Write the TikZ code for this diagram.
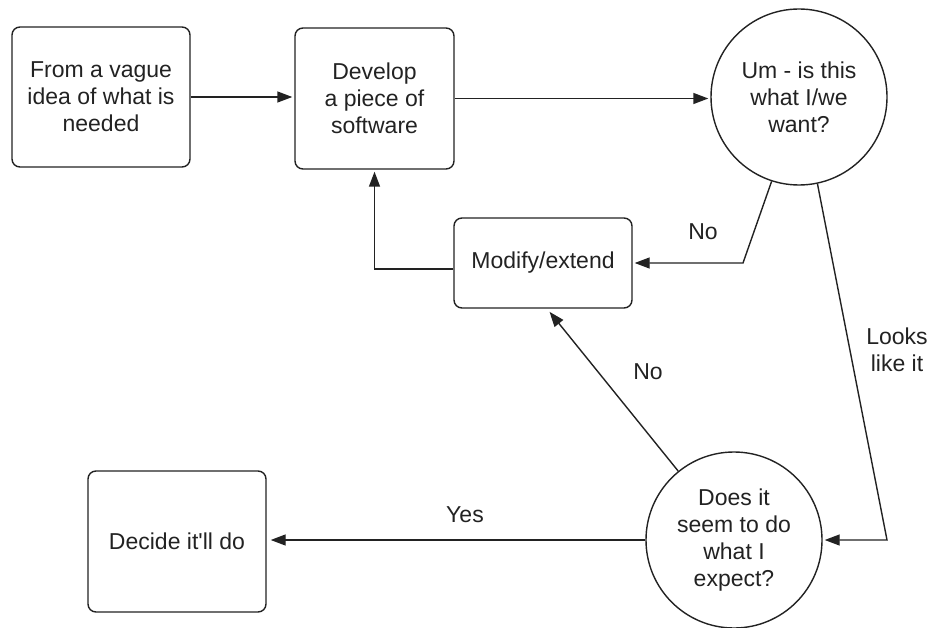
\documentclass[tikz,border=0pt]{standalone}
\usepackage{fontspec}
\setmainfont{Liberation Sans}
\usetikzlibrary{arrows.meta}
\definecolor{ink}{HTML}{222222}
\begin{document}
\begin{tikzpicture}[x=1pt,y=-1pt,
  every node/.style={font=\fontsize{23}{27}\selectfont, text=ink},
  box/.style={draw=ink, line width=1.4pt, rounded corners=8pt, align=center, inner sep=2pt},
  ask/.style={draw=ink, line width=1.4pt, circle, minimum size=176pt, inner sep=0pt, align=center},
  flow/.style={draw=ink, line width=1.4pt, -{Triangle[length=15pt,width=11pt]}, shorten >=2pt},
  lbl/.style={align=center, inner sep=1pt}]
\useasboundingbox (0,0) rectangle (933,628);

% process steps
\node[box, minimum width=178pt, minimum height=140pt] (idea) at (101,97)
  {From a vague\\idea of what is\\needed};
\node[box, minimum width=159pt, minimum height=141pt] (dev) at (374.5,98.5)
  {Develop\\a piece of\\software};
\node[box, minimum width=178pt, minimum height=90pt] (mod) at (543,263)
  {Modify/extend};
\node[box, minimum width=178pt, minimum height=141pt] (decide) at (177,541.5)
  {Decide it\textquotesingle ll do};

% decisions
\node[ask] (um) at (799,97) {Um - is this\\what I/we\\want?};
\node[ask] (does) at (734,540) {Does it\\seem to do\\what I\\expect?};

% bend points
\coordinate (nobend) at (743,263);
\coordinate (lookbend) at (887,540);

% connectors
\draw[flow] (idea.east) -- (idea.east -| dev.west);
\draw[flow] (dev.east) -- (dev.east -| um.west);
\draw[flow] (um.252) -- (nobend) -- (mod.east);
\draw[flow] ([yshift=-6pt]mod.west) -| (dev.south);
\draw[flow] (um.282) -- (lookbend) -- (does.east);
\draw[flow, shorten >=4pt] (does.129.5) -- ([xshift=4pt]mod.south);
\draw[flow, shorten >=4pt] (does.west) -- (does.west -| decide.east);

% connector labels
\node[lbl] (no1) at (703,232) {No};
\node[lbl] (no2) at (648,372) {No};
\node[lbl] (looks) at (897,350) {Looks\\like it};
\node[lbl] (yes) at (465,515) {Yes};
\end{tikzpicture}
\end{document}
